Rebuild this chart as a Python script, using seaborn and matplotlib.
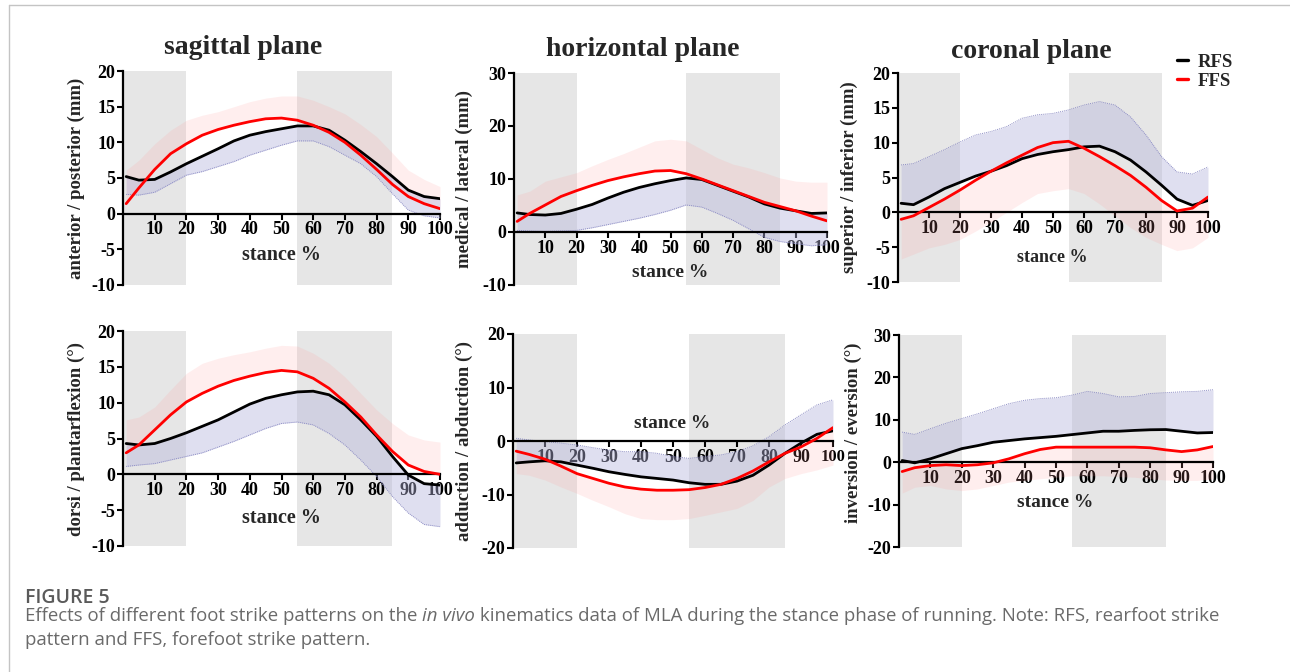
import matplotlib
matplotlib.use("Agg")
import matplotlib.pyplot as plt
import seaborn as sns
import numpy as np
from matplotlib.lines import Line2D

sns.set_style("white")
plt.rcParams['font.family'] = ['Liberation Serif', 'DejaVu Serif']
plt.rcParams['font.weight'] = 'bold'
plt.rcParams['axes.unicode_minus'] = False

# ---------------- data ----------------
stance = [1, 5, 10, 15, 20, 25, 30, 35, 40, 45, 50, 55, 60, 65, 70, 75, 80, 85, 90, 95, 100]

sag_rfs = [5.2, 4.7, 4.8, 5.85, 7.0, 8.05, 9.1, 10.2, 11.0, 11.5, 11.9, 12.3, 12.3, 11.7, 10.3, 8.7, 7.0, 5.2, 3.3, 2.4, 2.1]
sag_ffs = [1.4, 3.6, 6.2, 8.4, 9.8, 11.0, 11.8, 12.4, 12.9, 13.3, 13.4, 13.1, 12.4, 11.4, 10.0, 8.2, 6.2, 4.1, 2.4, 1.4, 0.7]
sag_rfs_sd = [2.7, 2.6, 3.0, 4.2, 5.4, 5.9, 6.6, 7.3, 8.2, 8.9, 9.6, 10.2, 10.2, 9.4, 8.2, 7.0, 5.2, 2.8, 0.5, -0.3, -0.6]
sag_ffs_sd = [6.1, 7.5, 9.8, 11.7, 13.1, 13.8, 14.3, 15.0, 15.7, 16.2, 16.5, 16.5, 15.9, 15.0, 14.0, 12.5, 10.8, 8.5, 6.1, 4.8, 3.8]

hor_rfs = [3.6, 3.3, 3.2, 3.5, 4.3, 5.2, 6.4, 7.5, 8.4, 9.1, 9.7, 10.2, 9.9, 8.8, 7.7, 6.6, 5.3, 4.5, 4.0, 3.5, 3.6]
hor_ffs = [2.0, 3.5, 5.1, 6.7, 7.8, 8.8, 9.7, 10.4, 11.0, 11.5, 11.6, 11.0, 10.0, 8.9, 7.8, 6.7, 5.6, 4.8, 4.0, 3.0, 2.1]
hor_rfs_sd = [0.3, 0.2, 0.1, 0.2, 0.3, 0.8, 1.4, 2.0, 2.6, 3.3, 4.1, 5.1, 4.7, 3.5, 2.2, 0.6, -1.0, -1.8, -2.2, -2.6, -2.4]
hor_ffs_sd = [7.0, 7.7, 9.6, 10.4, 11.2, 12.5, 13.7, 14.8, 16.0, 17.2, 17.5, 17.2, 15.6, 14.0, 12.8, 12.1, 11.2, 10.2, 9.6, 9.4, 9.4]

cor_rfs = [1.3, 1.1, 2.2, 3.4, 4.3, 5.2, 5.9, 6.7, 7.7, 8.3, 8.7, 9.0, 9.4, 9.5, 8.7, 7.5, 5.8, 3.9, 1.9, 1.0, 1.7]
cor_ffs = [-1.0, -0.5, 0.7, 1.9, 3.2, 4.6, 5.9, 7.1, 8.2, 9.3, 10.0, 10.2, 9.2, 8.0, 6.7, 5.3, 3.6, 1.7, 0.2, 0.6, 2.2]
cor_rfs_sd = [6.8, 7.0, 8.0, 9.0, 10.1, 11.1, 11.6, 12.3, 13.5, 14.0, 14.2, 14.7, 15.4, 15.9, 15.4, 13.7, 11.1, 8.0, 5.8, 5.5, 6.5]
cor_ffs_sd = [-6.7, -6.0, -5.1, -4.6, -3.9, -2.7, -1.4, 0.0, 1.4, 2.7, 3.1, 3.4, 2.7, 1.2, -0.5, -2.2, -3.6, -4.6, -5.5, -5.1, -3.6]

dor_rfs = [4.3, 4.1, 4.3, 5.0, 5.8, 6.7, 7.6, 8.7, 9.8, 10.6, 11.1, 11.5, 11.6, 11.1, 9.7, 7.6, 5.3, 2.5, -0.1, -1.3, -1.5]
dor_ffs = [3.0, 4.1, 6.2, 8.3, 10.1, 11.3, 12.3, 13.1, 13.7, 14.2, 14.5, 14.3, 13.4, 12.0, 10.1, 8.0, 5.5, 3.2, 1.3, 0.4, 0.0]
dor_rfs_sd = [1.1, 1.3, 1.5, 2.0, 2.5, 3.0, 3.8, 4.6, 5.5, 6.4, 7.1, 7.3, 6.9, 5.7, 4.1, 2.0, -0.3, -3.1, -5.4, -7.0, -7.3]
dor_ffs_sd = [7.6, 8.0, 9.4, 11.8, 14.1, 15.5, 16.2, 16.7, 17.1, 17.6, 18.0, 17.9, 16.9, 15.5, 13.6, 11.3, 9.0, 7.1, 5.5, 4.8, 4.5]

add_rfs = [-4.1, -3.9, -3.7, -3.9, -4.5, -5.1, -5.75, -6.25, -6.7, -7.0, -7.3, -7.8, -8.1, -8.1, -7.5, -6.4, -4.5, -2.3, -0.4, 1.25, 1.9]
add_ffs = [-1.9, -2.5, -3.4, -4.7, -6.1, -7.0, -7.9, -8.6, -9.0, -9.2, -9.2, -9.1, -8.7, -8.1, -7.0, -5.6, -3.9, -2.3, -1.1, 0.5, 2.5]
add_rfs_sd = [0.5, 0.2, -0.1, -0.4, -0.75, -1.25, -1.7, -2.0, -2.0, -2.3, -2.9, -3.25, -2.9, -2.6, -2.0, -0.9, 0.8, 3.0, 4.9, 6.75, 7.7]
add_ffs_sd = [-6.1, -6.4, -7.3, -8.6, -9.8, -11.1, -12.3, -13.6, -14.5, -14.7, -14.7, -14.5, -13.9, -13.25, -12.6, -11.1, -8.6, -7.0, -6.1, -5.4, -4.5]

inv_rfs = [0.4, -0.15, 0.8, 2.0, 3.2, 3.9, 4.7, 5.1, 5.5, 5.8, 6.1, 6.5, 6.9, 7.3, 7.3, 7.5, 7.65, 7.7, 7.3, 6.9, 7.0]
inv_ffs = [-2.2, -1.3, -0.8, -0.6, -0.8, -0.6, -0.15, 0.8, 2.0, 3.0, 3.55, 3.55, 3.55, 3.55, 3.55, 3.55, 3.4, 2.9, 2.5, 2.9, 3.7]
inv_rfs_sd = [7.1, 6.55, 7.9, 9.2, 10.3, 11.4, 12.6, 13.8, 14.6, 15.0, 15.2, 15.8, 16.7, 16.2, 15.4, 15.5, 16.2, 16.4, 16.6, 16.7, 17.1]
inv_ffs_sd = [-7.3, -5.9, -5.5, -6.3, -6.7, -6.3, -5.5, -4.7, -4.3, -3.9, -3.55, -3.2, -3.2, -3.2, -3.4, -3.55, -3.9, -4.2, -4.3, -4.3, -3.9]

titles = ["sagittal plane", "horizontal plane", "coronal plane"]
ylabels = ["anterior / posterior (mm)", "medical / lateral (mm)", "superior / inferior (mm)",
           "dorsi / plantarflexion (°)", "adduction / abduction (°)", "inversion / eversion (°)"]
yranges = [(-10, 20), (-10, 30), (-10, 20), (-10, 20), (-20, 20), (-20, 30)]
ysteps = [5, 10, 5, 5, 10, 10]
xticks = [10, 20, 30, 40, 50, 60, 70, 80, 90, 100]
shaded = [(0, 20), (55, 85)]
xlabel = "stance %"
caption_head = "FIGURE 5"
caption_parts = [("Effects of different foot strike patterns on the ", "normal"),
                 ("in vivo", "italic"),
                 (" kinematics data of MLA during the stance phase of running. Note: RFS, rearfoot strike", "normal")]
caption_line2 = "pattern and FFS, forefoot strike pattern."

panels = [
    (sag_rfs, sag_ffs, sag_rfs_sd, sag_ffs_sd),
    (hor_rfs, hor_ffs, hor_rfs_sd, hor_ffs_sd),
    (cor_rfs, cor_ffs, cor_rfs_sd, cor_ffs_sd),
    (dor_rfs, dor_ffs, dor_rfs_sd, dor_ffs_sd),
    (add_rfs, add_ffs, add_rfs_sd, add_ffs_sd),
    (inv_rfs, inv_ffs, inv_rfs_sd, inv_ffs_sd),
]

# ---------------- layout ----------------
W, H = 1290, 672
fig = plt.figure(figsize=(W / 100, H / 100), dpi=100)
fig.patch.set_facecolor("white")

# pixel boxes: (left, top, right, bottom)
boxes = [(123, 71, 440, 285), (514, 73, 827, 285), (898, 73, 1208, 282),
         (123, 331, 440, 546), (513, 334, 833, 548), (899, 335, 1213, 547)]
ylab_x = [-0.12, -0.131, -0.129, -0.12, -0.125, -0.118]
ylab_y = [0.5, 0.5, 0.5, 0.5, 0.5, 0.54]
xlab_pos = [(0.50, 0.14, 14.5), (0.50, 0.057, 14), (0.497, 0.115, 13),
            (0.50, 0.13, 14.5), (0.497, 0.584, 14), (0.497, 0.21, 14)]
title_pos = [(0.38, 48), (0.41, 50), (0.43, 52)]

band_gray = "#e6e6e6"
lav = "#b4b4dc"
pink = "#ff9a9a"
TICK_FS = 13

for i, (box, (rfs, ffs, rsd, fsd)) in enumerate(zip(boxes, panels)):
    l, t, r, b = box
    ax = fig.add_axes([l / W, 1 - b / H, (r - l) / W, (b - t) / H])
    ax.set_facecolor("none")
    for sp in ["top", "right"]:
        ax.spines[sp].set_visible(False)
    ax.spines["bottom"].set_position(("data", 0))
    ymin, ymax = yranges[i]
    for s0, s1 in shaded:
        ax.axvspan(s0, s1, color=band_gray, zorder=0, lw=0)
    ax.fill_between(stance, ffs, fsd, color=pink, alpha=0.16, lw=0, zorder=1)
    ax.fill_between(stance, rfs, rsd, color=lav, alpha=0.42, lw=0, zorder=2)
    ax.plot(stance, rsd, color="#8c8cc4", lw=0.7, ls=(0, (1, 1)), zorder=2.5)
    sns.lineplot(x=stance, y=rfs, color="black", lw=2.0, ax=ax, zorder=4)
    sns.lineplot(x=stance, y=ffs, color="#ff0000", lw=2.0, ax=ax, zorder=5)

    ax.set_xlim(0, 100)
    ax.set_ylim(ymin, ymax)
    yt = np.arange(ymin, ymax + 0.1, ysteps[i])
    ax.set_xticks(xticks)
    ax.set_yticks(yt)
    ax.set_xticklabels([str(v) for v in xticks], fontsize=TICK_FS, fontweight="bold")
    ax.set_yticklabels([str(int(v)) for v in yt], fontsize=TICK_FS, fontweight="bold")
    ax.spines["left"].set_linewidth(1.6)
    ax.spines["bottom"].set_linewidth(1.6)
    ax.spines["left"].set_color("black")
    ax.spines["bottom"].set_color("black")
    ax.tick_params(axis="both", direction="out", length=4, width=1.5, colors="black", pad=1.5)
    ax.tick_params(axis="y", left=True)
    ax.tick_params(axis="x", bottom=True)
    ax.set_ylabel(ylabels[i], fontsize=13.5, fontweight="bold")
    ax.yaxis.set_label_coords(ylab_x[i], ylab_y[i])
    xl, yl, fs = xlab_pos[i]
    ax.text(xl, yl, xlabel, transform=ax.transAxes, ha="center", va="center",
            fontsize=fs, fontweight="bold")
    ax.set_xlabel("")
    if i == 4:
        # last tick label sits at the panel edge; keep it compact like the reference
        ax.get_xticklabels()[-1].set_fontsize(12)
    if i < 3:
        tx, ty = title_pos[i]
        fig.text((l + tx * (r - l)) / W, 1 - ty / H, titles[i], ha="center", va="center",
                 fontsize=20, fontweight="bold")

# legend
handles = [Line2D([], [], color="black", lw=2.4), Line2D([], [], color="#ff0000", lw=2.4)]
leg = fig.legend(handles, ["RFS", "FFS"], loc="upper left", bbox_to_anchor=(1160 / W, 1 - 37 / H),
                 frameon=False, handlelength=0.6, handletextpad=0.5, labelspacing=0.1,
                 prop={"family": "Liberation Serif", "weight": "bold", "size": 13.5})

# frame lines
fig.add_artist(Line2D([9 / W, 9 / W], [0, 1 - 5 / H], color="#c4c4c4", lw=1.0))
fig.add_artist(Line2D([9 / W, 1], [1 - 5 / H, 1 - 5 / H], color="#c4c4c4", lw=1.0))

# caption
cap_font = ["Open Sans", "DejaVu Sans"]
fig.text(25 / W, 1 - 598 / H, caption_head, ha="left", va="center", fontsize=14,
         family=cap_font, color="#5a5a5a", fontweight="semibold")
fig.canvas.draw()
renderer = fig.canvas.get_renderer()
xpos = 25
for txt, style in caption_parts:
    tt = fig.text(xpos / W, 1 - 616 / H, txt, ha="left", va="center", fontsize=13.4,
                  family=cap_font, color="#6a6a6a", style=style, fontweight="normal")
    bb = tt.get_window_extent(renderer=renderer)
    xpos = bb.x1
fig.text(25 / W, 1 - 640 / H, caption_line2, ha="left", va="center", fontsize=13.4,
         family=cap_font, color="#6a6a6a", fontweight="normal")

fig.savefig("out.png", dpi=100, facecolor="white")
